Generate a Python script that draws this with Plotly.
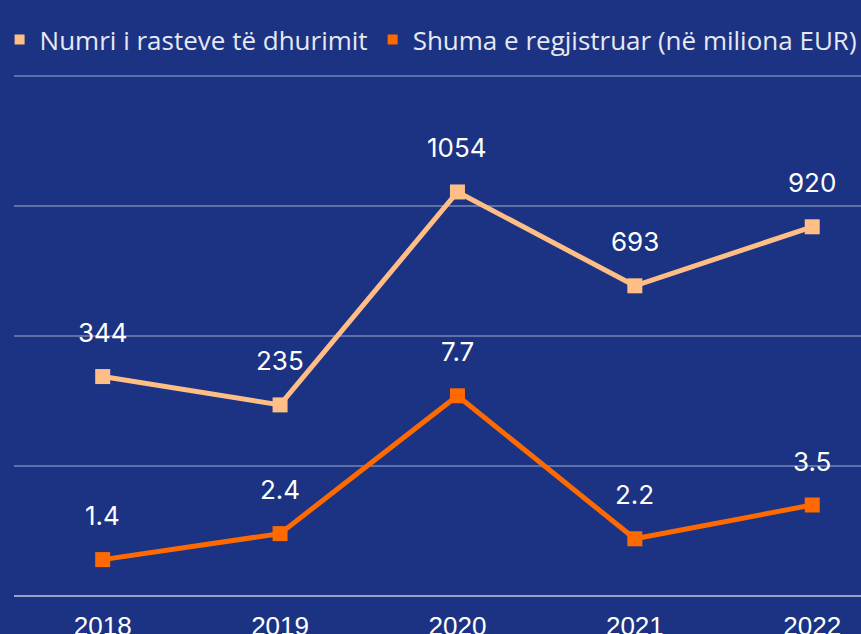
import plotly.graph_objects as go

years = ["2018", "2019", "2020", "2021", "2022"]
cases = [344, 235, 1054, 693, 920]
amounts = [1.4, 2.4, 7.7, 2.2, 3.5]
name_cases = "Numri i rasteve të dhurimit"
name_amounts = "Shuma e regjistruar (në miliona EUR)"

light = "#FFBE86"
orange = "#FF6A00"
bg = "#1B3382"

fig = go.Figure()
fig.add_trace(go.Scatter(x=years, y=amounts, mode="lines+markers", yaxis="y",
                         line=dict(color=orange, width=5),
                         marker=dict(symbol="square", size=15, color=orange),
                         showlegend=False))
fig.add_trace(go.Scatter(x=years, y=cases, mode="lines+markers", yaxis="y2",
                         line=dict(color=light, width=5),
                         marker=dict(symbol="square", size=15, color=light),
                         showlegend=False))
# legend-only entries (square markers)
fig.add_trace(go.Scatter(x=[None], y=[None], mode="markers", name=name_cases,
                         marker=dict(symbol="square", size=10, color=light)))
fig.add_trace(go.Scatter(x=[None], y=[None], mode="markers", name=name_amounts,
                         marker=dict(symbol="square", size=10, color=orange)))

for i, v in enumerate(cases):
    fig.add_annotation(x=i, xref="x", y=v, yref="y2", text=str(v), showarrow=False,
                       yshift=44, font=dict(size=26, color="white", family="Inter"))
for i, v in enumerate(amounts):
    fig.add_annotation(x=i, xref="x", y=v, yref="y", text=str(v), showarrow=False,
                       yshift=44, font=dict(size=26, color="white", family="Inter"))

fig.update_layout(
    width=861, height=634,
    margin=dict(l=10, r=0, t=71, b=38),
    paper_bgcolor=bg, plot_bgcolor=bg,
    xaxis=dict(type="category", range=[-0.5, 4.275], showgrid=False, zeroline=False,
               showline=False, ticks="", ticklabelstandoff=12, automargin=False,
               tickfont=dict(size=26, color="white", family="Liberation Sans")),
    yaxis=dict(range=[0, 20.192], tickvals=[0, 5, 10, 15, 20], showgrid=True,
               gridcolor="rgba(255,255,255,0.3)", automargin=False,
               gridwidth=2, zeroline=True, zerolinecolor="rgba(255,255,255,0.55)",
               zerolinewidth=2, showticklabels=False),
    yaxis2=dict(range=[-500, 1519.2], overlaying="y", showgrid=False, zeroline=False,
                showticklabels=False, automargin=False),
    legend=dict(orientation="h", x=-0.017, xanchor="left", y=1.06, yanchor="middle",
                font=dict(size=26, color="#E6E8F2", family="Open Sans"),
                bgcolor="rgba(0,0,0,0)", itemwidth=30),
)

fig.write_html("out.html")
